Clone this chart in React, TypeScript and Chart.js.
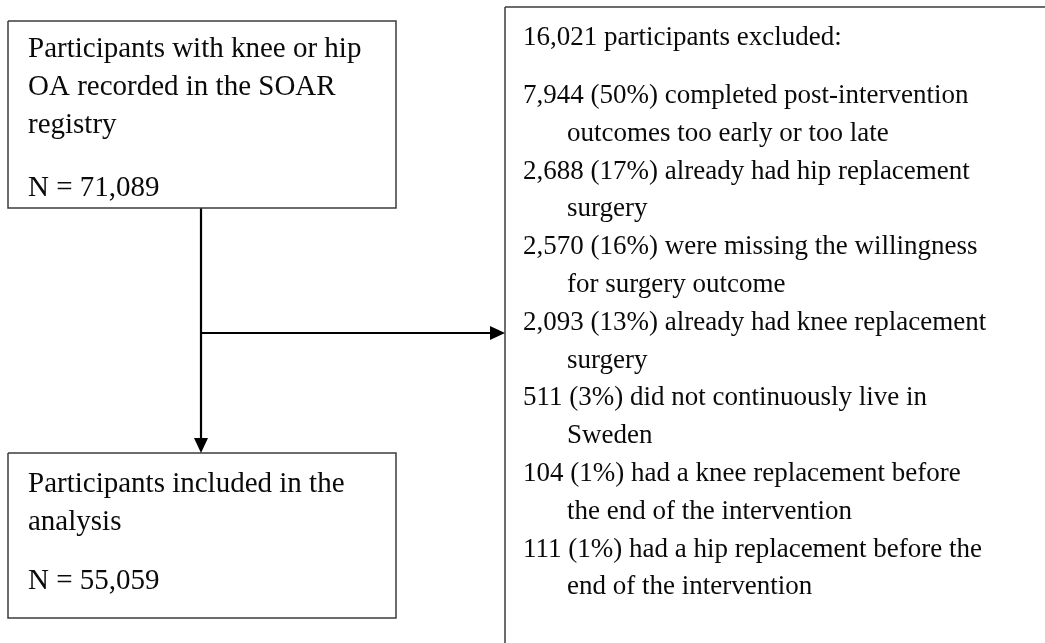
import React, { useEffect, useRef } from "react";
import { Chart, registerables } from "chart.js";

Chart.register(...registerables);

// ---- data ----
const totalRecorded = 71089;
const totalExcluded = 16021;
const totalIncluded = 55059;
const exclusionCounts = [7944, 2688, 2570, 2093, 511, 104, 111];
const exclusionPercents = [50, 17, 16, 13, 3, 1, 1];
const exclusionReasonFirst = [
  "completed post-intervention",
  "already had hip replacement",
  "were missing the willingness",
  "already had knee replacement",
  "did not continuously live in",
  "had a knee replacement before",
  "had a hip replacement before the",
];
const exclusionReasonSecond = [
  "outcomes too early or too late",
  "surgery",
  "for surgery outcome",
  "surgery",
  "Sweden",
  "the end of the intervention",
  "end of the intervention",
];
const sourceLabel = ["Participants with knee or hip", "OA recorded in the SOAR", "registry"];
const includedLabel = ["Participants included in the", "analysis"];

// ---- layout ----
const W = 1045;
const H = 643;
const boxTop = { x0: 8, y0: 21, x1: 396, y1: 208 };
const boxBottom = { x0: 8, y0: 453, x1: 396, y1: 618 };
const boxRight = { x0: 505, y0: 7, x1: 1070, y1: 670 };
const stemX = 201;
const branchY = 333;
const headLen = 15;
const headHalf = 7;
const leftFont = "29px 'Liberation Serif', 'Times New Roman', serif";
const rightFont = "27px 'Liberation Serif', 'Times New Roman', serif";

const fmt = (n: number) => n.toLocaleString("en-US");

const rectPoints = (b: { x0: number; y0: number; x1: number; y1: number }) => [
  { x: b.x0, y: b.y0 },
  { x: b.x1, y: b.y0 },
  { x: b.x1, y: b.y1 },
  { x: b.x0, y: b.y1 },
  { x: b.x0, y: b.y0 },
];

export default function App() {
  const ref = useRef<HTMLCanvasElement | null>(null);

  useEffect(() => {
    if (!ref.current) return;

    const textPlugin = {
      id: "flowText",
      afterDatasetsDraw(chart: any) {
        const ctx = chart.ctx as CanvasRenderingContext2D;
        const xs = chart.scales.x;
        const ys = chart.scales.y;
        const px = (v: number) => xs.getPixelForValue(v);
        const py = (v: number) => ys.getPixelForValue(v);
        ctx.save();
        // arrowheads
        ctx.fillStyle = "#000";
        ctx.beginPath();
        ctx.moveTo(px(stemX), py(boxBottom.y0));
        ctx.lineTo(px(stemX - headHalf), py(boxBottom.y0 - headLen));
        ctx.lineTo(px(stemX + headHalf), py(boxBottom.y0 - headLen));
        ctx.closePath();
        ctx.fill();
        ctx.beginPath();
        ctx.moveTo(px(boxRight.x0), py(branchY));
        ctx.lineTo(px(boxRight.x0 - headLen), py(branchY - headHalf));
        ctx.lineTo(px(boxRight.x0 - headLen), py(branchY + headHalf));
        ctx.closePath();
        ctx.fill();

        ctx.fillStyle = "#0a0a0a";
        ctx.textBaseline = "alphabetic";
        ctx.textAlign = "left";
        // top box
        ctx.font = leftFont;
        const topLines = [...sourceLabel];
        const topBase = [57, 95, 133];
        topLines.forEach((t, i) => ctx.fillText(t, px(28), py(topBase[i])));
        ctx.fillText(`N = ${fmt(totalRecorded)}`, px(28), py(196));
        // bottom box
        const botBase = [492, 530];
        includedLabel.forEach((t, i) => ctx.fillText(t, px(28), py(botBase[i])));
        ctx.fillText(`N = ${fmt(totalIncluded)}`, px(28), py(589));
        // right box
        ctx.font = rightFont;
        ctx.fillText(`${fmt(totalExcluded)} participants excluded:`, px(523), py(45));
        const step = 37.8;
        let y = 103;
        exclusionCounts.forEach((c, i) => {
          ctx.fillText(`${fmt(c)} (${exclusionPercents[i]}%) ${exclusionReasonFirst[i]}`, px(523), py(y));
          y += step;
          ctx.fillText(exclusionReasonSecond[i], px(567), py(y));
          y += step;
        });
        ctx.restore();
      },
    };

    const boxStyle = {
      showLine: true,
      pointRadius: 0,
      borderColor: "#3c3c3c",
      borderWidth: 1.5,
      fill: false,
      tension: 0,
    };
    const arrowStyle = {
      showLine: true,
      pointRadius: 0,
      borderColor: "#000",
      borderWidth: 2.2,
      fill: false,
      tension: 0,
    };

    const chart = new Chart(ref.current, {
      type: "scatter",
      data: {
        datasets: [
          { ...boxStyle, label: "source", data: rectPoints(boxTop) },
          { ...boxStyle, label: "included", data: rectPoints(boxBottom) },
          { ...boxStyle, label: "excluded", data: rectPoints(boxRight) },
          {
            ...arrowStyle,
            label: "stem",
            data: [
              { x: stemX, y: boxTop.y1 },
              { x: stemX, y: boxBottom.y0 - headLen + 1 },
            ],
          },
          {
            ...arrowStyle,
            label: "branch",
            data: [
              { x: stemX, y: branchY },
              { x: boxRight.x0 - headLen + 1, y: branchY },
            ],
          },
        ],
      },
      options: {
        responsive: false,
        animation: false,
        devicePixelRatio: 1,
        layout: { padding: 0 },
        plugins: { legend: { display: false }, tooltip: { enabled: false }, title: { display: false } },
        scales: {
          x: { type: "linear", min: 0, max: W, display: false },
          y: { type: "linear", min: 0, max: H, reverse: true, display: false },
        },
        events: [],
      } as any,
      plugins: [textPlugin],
    });
    return () => chart.destroy();
  }, []);

  return (
    <div style={{ position: "absolute", left: 0, top: 0, width: W, height: H, background: "#fff" }}>
      <canvas ref={ref} width={W} height={H} style={{ display: "block", width: W, height: H }} />
    </div>
  );
}
